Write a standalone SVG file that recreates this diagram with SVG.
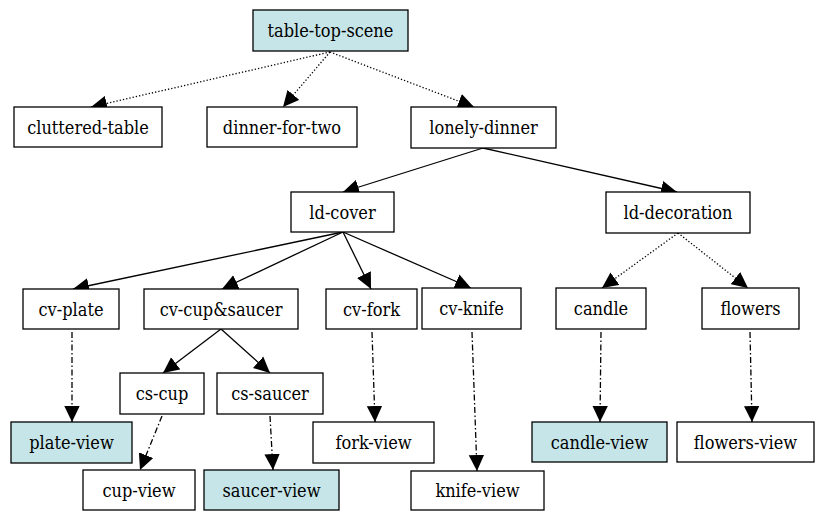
<svg xmlns="http://www.w3.org/2000/svg" width="815" height="511" viewBox="0 0 815 511">
<style>
.n rect{fill:#ffffff;stroke:#000;stroke-width:1.3}
.n.v rect{fill:#c6e5e8}
.n text{font-family:"DejaVu Serif Condensed","Liberation Serif",serif;font-size:18px;text-anchor:middle;fill:#000}
.e line{stroke:#000;stroke-width:1.3;fill:none;marker-end:url(#ah)}
.e .dot{stroke-dasharray:1.3,2}
.e .dd{stroke-dasharray:6,2.5,1.5,2.5}
</style>
<defs>
<marker id="ah" viewBox="0 0 16 16" refX="16" refY="8" markerWidth="16" markerHeight="16" orient="auto" markerUnits="userSpaceOnUse">
<path d="M0,0.3 L16,8 L0,15.7 z" fill="#000"/>
</marker>
</defs>
<rect width="815" height="511" fill="#fff"/>
<g class="e" id="edges">
<line class="dot" x1="330" y1="52" x2="91" y2="107"/>
<line class="dot" x1="330" y1="52" x2="283" y2="107"/>
<line class="dot" x1="330" y1="52" x2="474" y2="107"/>
<line x1="483" y1="148" x2="343" y2="192"/>
<line x1="483" y1="148" x2="677" y2="192"/>
<line class="dot" x1="678" y1="233" x2="602" y2="288"/>
<line class="dot" x1="678" y1="233" x2="748" y2="288"/>
<line x1="343" y1="232" x2="73" y2="289"/>
<line x1="343" y1="232" x2="222" y2="289"/>
<line x1="343" y1="232" x2="371" y2="289"/>
<line x1="343" y1="232" x2="471" y2="288"/>
<line x1="221" y1="329" x2="163" y2="373"/>
<line x1="221" y1="329" x2="270" y2="373"/>
<line class="dd" x1="72" y1="332" x2="72" y2="422"/>
<line class="dd" x1="162" y1="416" x2="140" y2="470"/>
<line class="dd" x1="270" y1="416" x2="273" y2="470"/>
<line class="dd" x1="372" y1="332" x2="375" y2="422"/>
<line class="dd" x1="472" y1="332" x2="477" y2="471"/>
<line class="dd" x1="601" y1="332" x2="600" y2="422"/>
<line class="dd" x1="750" y1="332" x2="752" y2="422"/>
</g>
<g class="n v" id="table-top-scene"><rect x="253" y="10" width="155" height="41"/><text x="330.5" y="37">table-top-scene</text></g>
<g class="n" id="cluttered-table"><rect x="14" y="107" width="148" height="40"/><text x="88" y="133.5">cluttered-table</text></g>
<g class="n" id="dinner-for-two"><rect x="207" y="107" width="150" height="40"/><text x="282" y="133.5">dinner-for-two</text></g>
<g class="n" id="lonely-dinner"><rect x="411" y="107" width="145" height="41"/><text x="483.5" y="134">lonely-dinner</text></g>
<g class="n" id="ld-cover"><rect x="291" y="192" width="103" height="40"/><text x="342.5" y="218.5">ld-cover</text></g>
<g class="n" id="ld-decoration"><rect x="606" y="192" width="144" height="41"/><text x="678" y="219">ld-decoration</text></g>
<g class="n" id="cv-plate"><rect x="23" y="289" width="96" height="40"/><text x="71" y="315.5">cv-plate</text></g>
<g class="n" id="cv-cup-saucer"><rect x="144" y="289" width="154" height="40"/><text x="221" y="315.5">cv-cup&amp;saucer</text></g>
<g class="n" id="cv-fork"><rect x="326" y="289" width="91" height="40"/><text x="371.5" y="315.5">cv-fork</text></g>
<g class="n" id="cv-knife"><rect x="422" y="288" width="99" height="41"/><text x="471.5" y="315">cv-knife</text></g>
<g class="n" id="candle"><rect x="556" y="288" width="90" height="41"/><text x="601" y="315">candle</text></g>
<g class="n" id="flowers"><rect x="702" y="288" width="97" height="41"/><text x="750.5" y="315">flowers</text></g>
<g class="n" id="cs-cup"><rect x="120" y="373" width="84" height="41"/><text x="162" y="400">cs-cup</text></g>
<g class="n" id="cs-saucer"><rect x="217" y="373" width="106" height="41"/><text x="270" y="400">cs-saucer</text></g>
<g class="n v" id="plate-view"><rect x="11" y="422" width="121" height="41"/><text x="71.5" y="449">plate-view</text></g>
<g class="n" id="fork-view"><rect x="313" y="422" width="121" height="41"/><text x="373.5" y="449">fork-view</text></g>
<g class="n v" id="candle-view"><rect x="532" y="422" width="135" height="40"/><text x="599.5" y="448.5">candle-view</text></g>
<g class="n" id="flowers-view"><rect x="677" y="422" width="137" height="40"/><text x="745.5" y="448.5">flowers-view</text></g>
<g class="n" id="cup-view"><rect x="83" y="470" width="112" height="40"/><text x="139" y="496.5">cup-view</text></g>
<g class="n v" id="saucer-view"><rect x="204" y="470" width="135" height="40"/><text x="271.5" y="496.5">saucer-view</text></g>
<g class="n" id="knife-view"><rect x="411" y="471" width="133" height="39"/><text x="477.5" y="497">knife-view</text></g>
</svg>
